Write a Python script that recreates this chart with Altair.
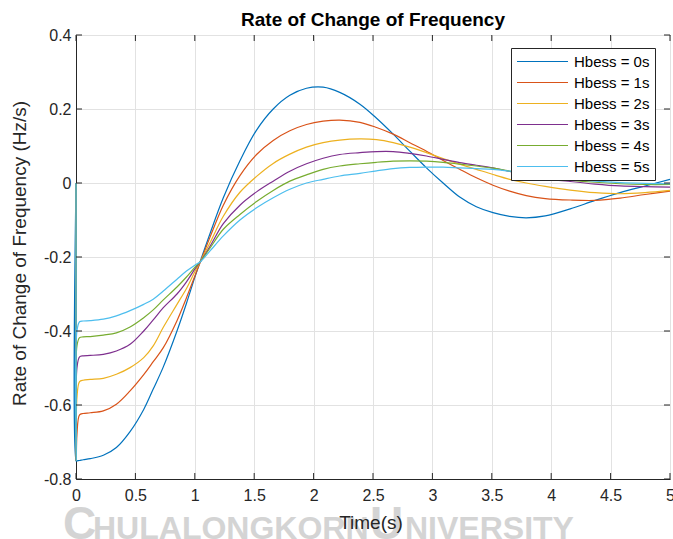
import altair as alt
import pandas as pd

# Simulated rate of change of frequency for different virtual inertia constants (Hbess)
TIME = [0, 0.002, 0.008, 0.03, 0.06, 0.12, 0.23, 0.34, 0.455, 0.57,
        0.65, 0.735, 0.85, 0.93, 1.0, 1.05, 1.13, 1.24, 1.38, 1.52,
        1.66, 1.80, 1.94, 2.08, 2.22, 2.39, 2.53, 2.67, 2.81, 2.95,
        3.09, 3.23, 3.37, 3.51, 3.65, 3.79, 3.95, 4.16, 4.37, 4.58,
        4.79, 5.0]

H0 = [0.0, -0.752, -0.751, -0.750, -0.748, -0.745, -0.736, -0.715, -0.672, -0.612,
      -0.557, -0.497, -0.400, -0.325, -0.255, -0.208, -0.135, -0.040, 0.060, 0.143,
      0.200, 0.237, 0.256, 0.259, 0.245, 0.213, 0.175, 0.132, 0.086, 0.041,
      0.000, -0.038, -0.064, -0.080, -0.090, -0.094, -0.089, -0.070, -0.047, -0.026,
      -0.008, 0.010]
H1 = [0.0, -0.750, -0.680, -0.627, -0.623, -0.621, -0.616, -0.598, -0.562, -0.518,
      -0.483, -0.445, -0.372, -0.310, -0.252, -0.211, -0.145, -0.060, 0.020, 0.077,
      0.115, 0.141, 0.158, 0.167, 0.170, 0.164, 0.150, 0.132, 0.109, 0.086,
      0.061, 0.037, 0.014, -0.006, -0.022, -0.034, -0.042, -0.046, -0.047, -0.041,
      -0.031, -0.022]
H2 = [0.0, -0.750, -0.580, -0.537, -0.533, -0.531, -0.528, -0.517, -0.499, -0.472,
      -0.440, -0.390, -0.328, -0.285, -0.240, -0.210, -0.160, -0.090, -0.025, 0.018,
      0.053, 0.078, 0.097, 0.109, 0.116, 0.119, 0.117, 0.109, 0.097, 0.082,
      0.066, 0.051, 0.037, 0.023, 0.010, 0.000, -0.009, -0.019, -0.026, -0.029,
      -0.026, -0.020]
H3 = [0.0, -0.750, -0.500, -0.470, -0.467, -0.466, -0.463, -0.454, -0.436, -0.400,
      -0.370, -0.337, -0.300, -0.267, -0.233, -0.211, -0.170, -0.110, -0.060, -0.024,
      0.005, 0.032, 0.052, 0.067, 0.077, 0.082, 0.085, 0.085, 0.080, 0.073,
      0.064, 0.055, 0.048, 0.041, 0.031, 0.021, 0.012, 0.004, -0.003, -0.008,
      -0.010, -0.011]
H4 = [0.0, -0.750, -0.440, -0.418, -0.416, -0.415, -0.411, -0.405, -0.389, -0.364,
      -0.343, -0.316, -0.281, -0.254, -0.228, -0.211, -0.175, -0.125, -0.085, -0.050,
      -0.020, 0.005, 0.022, 0.037, 0.046, 0.052, 0.056, 0.059, 0.060, 0.059,
      0.056, 0.051, 0.046, 0.040, 0.032, 0.024, 0.016, 0.008, 0.002, -0.002,
      -0.004, -0.004]
H5 = [0.0, -0.750, -0.400, -0.375, -0.373, -0.372, -0.368, -0.359, -0.345, -0.328,
      -0.314, -0.292, -0.260, -0.238, -0.222, -0.212, -0.183, -0.143, -0.100, -0.067,
      -0.040, -0.017, 0.000, 0.010, 0.019, 0.026, 0.033, 0.039, 0.042, 0.043,
      0.043, 0.041, 0.039, 0.037, 0.032, 0.026, 0.019, 0.011, 0.005, 0.001,
      -0.001, -0.002]

LABELS = ["Hbess = 0s", "Hbess = 1s", "Hbess = 2s", "Hbess = 3s", "Hbess = 4s", "Hbess = 5s"]
COLORS = ["#0072BD", "#D95319", "#EDB120", "#7E2F8E", "#77AC30", "#4DBEEE"]
SERIES = [H0, H1, H2, H3, H4, H5]

X_TICKS = [0, 0.5, 1, 1.5, 2, 2.5, 3, 3.5, 4, 4.5, 5]
Y_TICKS = [-0.8, -0.6, -0.4, -0.2, 0, 0.2, 0.4]

rows = []
for label, ys in zip(LABELS, SERIES):
    for t, v in zip(TIME, ys):
        rows.append({"t": t, "v": v, "series": label})
df = pd.DataFrame(rows)

W, H = 594, 444
AX = "#262626"
FONT = "Liberation Sans"
TICK = 6

x_scale = alt.Scale(domain=[0, 5], nice=False, zero=False)
y_scale = alt.Scale(domain=[-0.8, 0.4], nice=False, zero=False)

y_label_expr = ("datum.value == 0 ? '0' : (datum.value < 0 ? '-' + format(-datum.value, '.1f') "
                ": format(datum.value, '.1f'))")

# one axis definition shared by every layer so the merged axes stay intact
x_axis = alt.Axis(values=X_TICKS, title=None, labelExpr="'' + datum.value",
                  labelPadding=8, labelFlush=False)
y_axis = alt.Axis(values=Y_TICKS, labelExpr=y_label_expr, labelPadding=5, labelFlush=False,
                  title="Rate of Change of Frequency (Hz/s)", titleX=-47, titleY=218)

lines = alt.Chart(df).mark_line(strokeWidth=1.2, interpolate="catmull-rom").encode(
    x=alt.X("t:Q", scale=x_scale, axis=x_axis),
    y=alt.Y("v:Q", scale=y_scale, axis=y_axis),
    color=alt.Color("series:N",
                    scale=alt.Scale(domain=LABELS, range=COLORS),
                    legend=alt.Legend(title=None, orient="none", legendX=435, legendY=13,
                                      symbolType="stroke", symbolSize=2601,
                                      symbolStrokeWidth=1.2, labelFontSize=15,
                                      labelFont=FONT, labelColor="black",
                                      padding=5, rowPadding=4, clipHeight=17,
                                      labelOffset=5, strokeColor=AX, fillColor="white",
                                      cornerRadius=0)),
)

# inward tick marks on all four sides of the box
xt = pd.DataFrame({"t": X_TICKS})
yt = pd.DataFrame({"v": Y_TICKS})
ticks_bottom = alt.Chart(xt).mark_rule(color=AX, strokeWidth=1).encode(
    x=alt.X("t:Q", scale=x_scale, axis=x_axis), y=alt.value(H), y2=alt.value(H - TICK))
ticks_top = alt.Chart(xt).mark_rule(color=AX, strokeWidth=1).encode(
    x=alt.X("t:Q", scale=x_scale, axis=x_axis), y=alt.value(0), y2=alt.value(TICK))
ticks_left = alt.Chart(yt).mark_rule(color=AX, strokeWidth=1).encode(
    y=alt.Y("v:Q", scale=y_scale, axis=y_axis), x=alt.value(0), x2=alt.value(TICK))
ticks_right = alt.Chart(yt).mark_rule(color=AX, strokeWidth=1).encode(
    y=alt.Y("v:Q", scale=y_scale, axis=y_axis), x=alt.value(W), x2=alt.value(W - TICK))

# university watermark along the bottom edge
WM_FONT = "Liberation Sans"
wm_big = alt.Chart(pd.DataFrame({"s": ["C", "U"], "px": [-13, 294]})).mark_text(
    font=WM_FONT, fontWeight="bold", fontSize=46, color="#d4d4d4",
    align="left", baseline="alphabetic").encode(
    text="s:N", x=alt.X("px:Q", scale=None), y=alt.value(504))
wm_small = alt.Chart(pd.DataFrame({"s": ["HULALONGKORN", "NIVERSITY"], "px": [17, 329]})).mark_text(
    font=WM_FONT, fontWeight="bold", fontSize=32, color="#d4d4d4",
    align="left", baseline="alphabetic").encode(
    text="s:N", x=alt.X("px:Q", scale=None), y=alt.value(504))

x_title = alt.Chart(pd.DataFrame({"s": ["Time(s)"]})).mark_text(
    font=FONT, fontSize=19, color=AX, align="center", baseline="alphabetic").encode(
    text="s:N", x=alt.value(W / 2 - 2), y=alt.value(494))

main_title = alt.Chart(pd.DataFrame({"s": ["Rate of Change of Frequency"]})).mark_text(
    font=FONT, fontSize=19, fontWeight="bold", color="black", align="center",
    baseline="alphabetic").encode(
    text="s:N", x=alt.value(W / 2), y=alt.value(-9))

chart = alt.layer(
    wm_big, wm_small, x_title, main_title, lines,
    ticks_bottom, ticks_top, ticks_left, ticks_right
).properties(
    width=W, height=H,
    autosize=alt.AutoSizeParams(type="none"),
    padding={"left": 76, "top": 35, "right": 3, "bottom": 60},
    background="white",
).configure_view(
    stroke=AX, strokeWidth=1
).configure_axis(
    domainColor=AX, domainWidth=1, tickSize=0, gridColor="#e2e2e2", gridWidth=1,
    labelFont=FONT, labelFontSize=16, labelColor=AX,
    titleFont=FONT, titleFontSize=19, titleFontWeight="normal", titleColor=AX,
)

chart.save("out.html", embed_options={"renderer": "svg", "actions": False})
